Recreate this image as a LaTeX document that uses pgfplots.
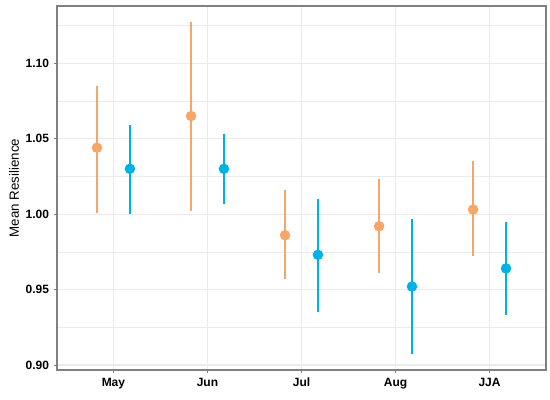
\documentclass[border=0pt]{standalone}
\usepackage{pgfplots}
\pgfplotsset{compat=1.18}
\usepackage{pgfplotstable}
\usepackage{fontspec}
\setmainfont{Liberation Sans}
\definecolor{orng}{RGB}{247,166,106}
\definecolor{blu}{RGB}{0,178,226}
\definecolor{gridc}{RGB}{235,235,235}
\definecolor{bord}{RGB}{128,128,128}
\pgfplotstableread{
x y lo hi
0.825 1.044 1.001 1.085
1.825 1.065 1.002 1.127
2.825 0.986 0.957 1.016
3.825 0.992 0.961 1.023
4.825 1.003 0.972 1.035
}\orangedata
\pgfplotstableread{
x y lo hi
1.175 1.030 1.000 1.059
2.175 1.030 1.007 1.053
3.175 0.973 0.935 1.010
4.175 0.952 0.907 0.997
5.175 0.964 0.933 0.995
}\bluedata
\begin{document}
\begin{tikzpicture}
\begin{axis}[
  scale only axis,
  width=366.75pt, height=273pt,
  xmin=0.4, xmax=5.6,
  ymin=0.8967, ymax=1.1379,
  xtick={1,2,3,4,5},
  xticklabels={May,Jun,Jul,Aug,JJA},
  ytick={0.90,0.95,1.00,1.05,1.10},
  minor ytick={0.925,0.975,1.025,1.075,1.125},
  yticklabel style={/pgf/number format/.cd,fixed,fixed zerofill,precision=2,assume math mode=true},
  ticklabel style={font=\fontsize{9}{11}\selectfont\bfseries, text=black},
  ylabel={Mean Resilience},
  ylabel style={font=\fontsize{10}{12}\selectfont, yshift=-2pt},
  tick align=outside,
  major tick length=2.5pt,
  tick style={bord, line width=0.6pt},
  xtick pos=bottom, ytick pos=left,
  minor tick length=0pt,
  grid=both,
  major grid style={gridc, line width=0.8pt},
  minor grid style={gridc, line width=0.5pt},
  axis line style={bord, line width=0.8pt},
  axis on top=false,
  clip=false,
]
\addplot[orng, line width=1.4pt, only marks, mark=*, mark size=3.2pt,
  mark options={fill=orng, draw=orng},
  error bars/.cd, y dir=both, y explicit, error mark=none,
  error bar style={orng, line width=1.4pt}]
  table[x=x, y=y, y error plus expr=\thisrow{hi}-\thisrow{y}, y error minus expr=\thisrow{y}-\thisrow{lo}] {\orangedata};
\addplot[blu, line width=1.4pt, only marks, mark=*, mark size=3.2pt,
  mark options={fill=blu, draw=blu},
  error bars/.cd, y dir=both, y explicit, error mark=none,
  error bar style={blu, line width=1.4pt}]
  table[x=x, y=y, y error plus expr=\thisrow{hi}-\thisrow{y}, y error minus expr=\thisrow{y}-\thisrow{lo}] {\bluedata};
\end{axis}
\pgfresetboundingbox
\path[use as bounding box] ([shift={(-42.75pt,-22pt)}]current axis.south west) rectangle ([shift={(3pt,4.5pt)}]current axis.north east);
\end{tikzpicture}
\end{document}
